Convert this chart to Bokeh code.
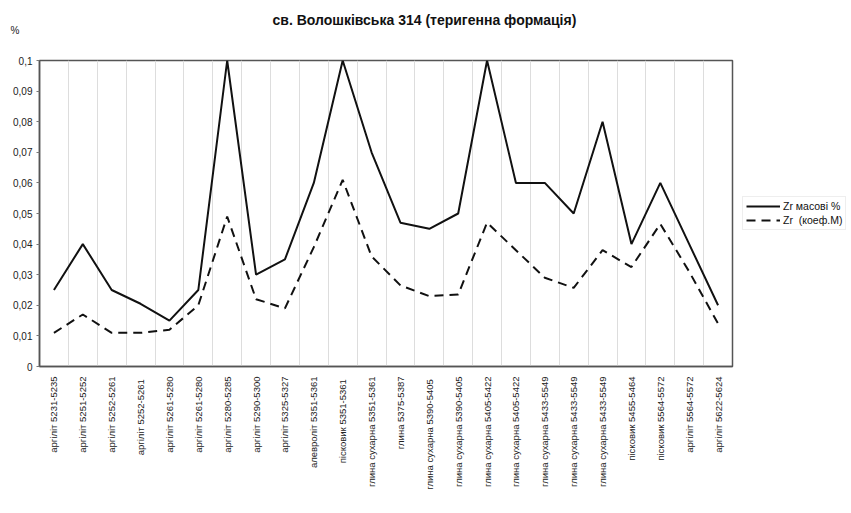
import math
from bokeh.plotting import figure
from bokeh.models import FixedTicker, Legend, LegendItem, Title, Range1d
from bokeh.embed import file_html
from bokeh.resources import INLINE

categories = [
    "аргіліт 5231-5235", "аргіліт 5251-5252", "аргіліт 5252-5261", "аргіліт  5252-5261",
    "аргіліт 5261-5280", "аргіліт 5261-5280", "аргіліт 5280-5285", "аргіліт 5290-5300",
    "аргіліт 5325-5327", "алевроліт 5351-5361", "пісковик  5351-5361", "глина сухарна 5351-5361",
    "глина 5375-5387", "глина сухарна  5390-5405", "глина сухарна 5390-5405", "глина сухарна 5405-5422",
    "глина сухарна 5405-5422", "глина сухарна 5433-5549", "глина сухарна 5433-5549", "глина сухарна 5433-5549",
    "пісковик 5455-5464", "пісковик 5564-5572", "аргіліт 5564-5572", "аргіліт 5622-5624",
]
zr_mass = [0.025, 0.04, 0.025, 0.0205, 0.015, 0.025, 0.1, 0.03, 0.035, 0.06, 0.1, 0.07,
           0.047, 0.045, 0.05, 0.1, 0.06, 0.06, 0.05, 0.08, 0.04, 0.06, 0.04, 0.02]
zr_coef = [0.011, 0.017, 0.011, 0.011, 0.012, 0.02, 0.049, 0.022, 0.019, 0.039, 0.061, 0.036,
           0.0265, 0.023, 0.0235, 0.047, 0.038, 0.029, 0.0257, 0.038, 0.0325, 0.0466, 0.031, 0.014]
y_ticks = [0, 0.01, 0.02, 0.03, 0.04, 0.05, 0.06, 0.07, 0.08, 0.09, 0.1]
y_tick_labels = ["0", "0,01", "0,02", "0,03", "0,04", "0,05", "0,06", "0,07", "0,08", "0,09", "0,1"]
series_names = ["Zr масові %", "Zr  (коеф.М)"]
title_text = "св. Волошківська 314 (теригенна формація)"
unit_text = "%"

FONT = "Liberation Sans"
xs = list(range(len(categories)))

p = figure(frame_width=693, frame_height=306, output_backend="svg", toolbar_location=None,
           x_range=Range1d(-0.5, len(categories) - 0.5), y_range=Range1d(0, 0.1),
           min_border_left=39, min_border_top=60, min_border_right=113, min_border_bottom=140)
p.background_fill_color = "white"
p.border_fill_color = "white"
p.outline_line_color = "#555555"
p.outline_line_width = 1.5

p.add_layout(Title(text=unit_text, align="left", offset=-29, text_font=FONT,
                   text_font_size="10px", text_font_style="normal", text_color="#222222",
                   vertical_align="top", standoff=46), "above")
p.add_layout(Title(text=title_text, align="left", offset=233, text_font=FONT,
                   text_font_size="14px", text_font_style="bold", text_color="#111111",
                   standoff=-52), "above")

r1 = p.line(xs, zr_mass, line_color="#111111", line_width=2)
r2 = p.line(xs, zr_coef, line_color="#111111", line_width=2, line_dash="9 6")

# axes
p.xaxis.ticker = FixedTicker(ticks=xs)
p.xaxis.major_label_overrides = {i: c.strip() for i, c in enumerate(categories)}
p.xaxis.major_label_orientation = math.pi / 2
p.xaxis.major_label_text_font = FONT
p.xaxis.major_label_text_font_size = "9.5px"
p.xaxis.major_label_text_color = "#222222"
p.xaxis.major_tick_line_color = None
p.xaxis.minor_tick_line_color = None
p.xaxis.axis_line_color = "#555555"
p.xaxis.axis_line_width = 1.5
p.xaxis.major_label_standoff = 4

p.yaxis.ticker = FixedTicker(ticks=y_ticks)
p.yaxis.major_label_overrides = {v: l for v, l in zip(y_ticks, y_tick_labels)}
p.yaxis.major_label_text_font = FONT
p.yaxis.major_label_text_font_size = "10px"
p.yaxis.major_label_text_color = "#222222"
p.yaxis.major_tick_line_color = "#777777"
p.yaxis.major_tick_out = 3
p.yaxis.major_tick_in = 0
p.yaxis.minor_tick_line_color = None
p.yaxis.axis_line_color = "#555555"
p.yaxis.axis_line_width = 1.5
p.yaxis.major_label_standoff = 4

p.ygrid.grid_line_color = None
p.xgrid.ticker = FixedTicker(ticks=[i + 0.5 for i in range(len(categories) - 1)])
p.xgrid.grid_line_color = "#dddddd"
p.xgrid.grid_line_width = 1

legend = Legend(items=[LegendItem(label=series_names[0], renderers=[r1]),
                       LegendItem(label=series_names[1], renderers=[r2])],
                location="left", label_text_font=FONT, label_text_font_size="10.5px",
                label_text_color="#111111", border_line_color="#dddddd",
                glyph_width=34, glyph_height=12, label_height=12, spacing=2,
                padding=3, margin=10, label_standoff=3)
p.add_layout(legend, "right")

open("out.html", "w").write(file_html(p, INLINE))
